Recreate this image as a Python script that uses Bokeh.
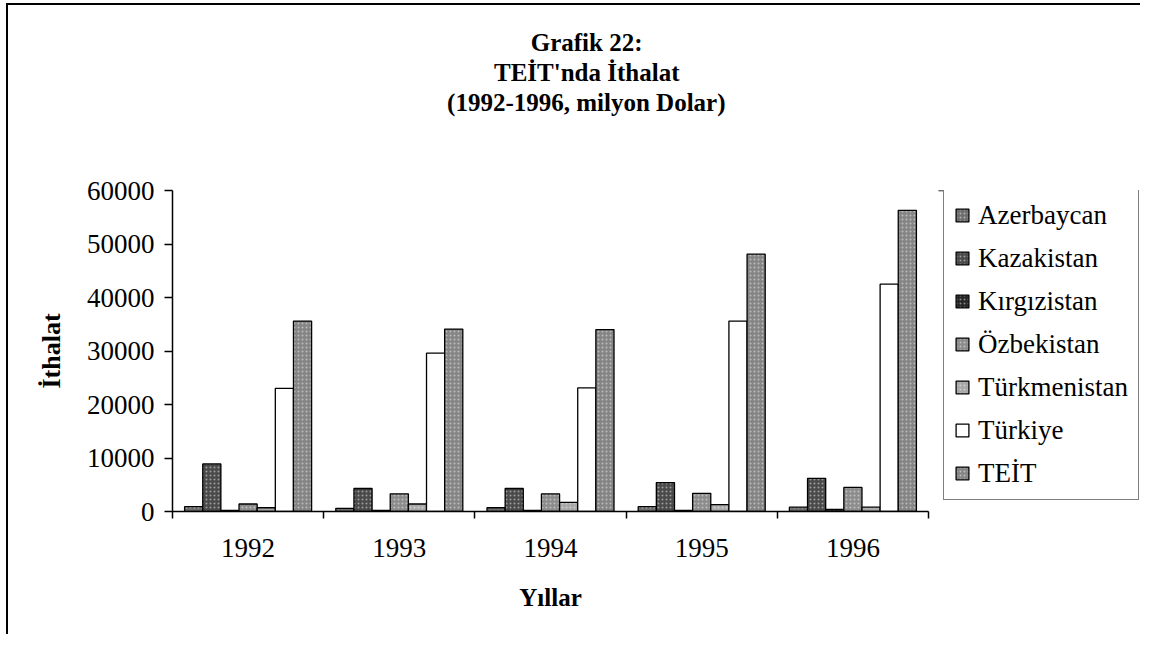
from bokeh.plotting import figure
from bokeh.layouts import row
from bokeh.models import Range1d, FixedTicker, Legend, LegendItem, Title, ColumnDataSource
from bokeh.embed import file_html
from bokeh.resources import INLINE

years = ["1992", "1993", "1994", "1995", "1996"]
countries = ["Azerbaycan", "Kazakistan", "Kırgızistan", "Özbekistan",
             "Türkmenistan", "Türkiye", "TEİT"]
azerbaycan = [900, 600, 700, 900, 800]
kazakistan = [8900, 4300, 4300, 5400, 6200]
kirgizistan = [200, 200, 200, 200, 400]
ozbekistan = [1400, 3300, 3300, 3400, 4500]
turkmenistan = [700, 1400, 1700, 1300, 800]
turkiye = [23000, 29600, 23100, 35600, 42500]
teit = [35600, 34100, 34000, 48100, 56300]
series = [azerbaycan, kazakistan, kirgizistan, ozbekistan, turkmenistan, turkiye, teit]
y_ticks = [0, 10000, 20000, 30000, 40000, 50000, 60000]
title_lines = ["Grafik 22:", "TEİT'nda İthalat", "(1992-1996, milyon Dolar)"]

colors = ["#6e6e6e", "#4a4a4a", "#262626", "#8c8c8c", "#a8a8a8", "#ffffff", "#858585"]

SERIF = "Liberation Serif"

p = figure(width=929, height=631, output_backend="svg", toolbar_location=None,
           x_range=Range1d(0, len(years)), y_range=Range1d(0, 60000),
           min_border_left=164, min_border_right=9, min_border_top=185,
           min_border_bottom=125)
p.styles = {"border-left": "2px solid black", "border-top": "2px solid black",
            "margin-left": "6px", "margin-top": "3px"}

# separate panel holding the legend (to the right of the chart); its frame
# lines up with the chart frame, and its y range lies below the data so
# that only the legend is visible there
pl = figure(width=205, height=631, output_backend="svg", toolbar_location=None,
            x_range=Range1d(0, len(years)), y_range=Range1d(-120000, -60000),
            x_axis_location=None, y_axis_location=None, min_border=0)
pl.styles = {"border-top": "2px solid black", "margin-top": "3px"}
pl.grid.visible = False
pl.outline_line_color = None
pl.background_fill_color = "white"
pl.border_fill_color = "white"

bar_w = 0.12
items = []
for k, (name, vals) in enumerate(zip(countries, series)):
    xs = [i + 0.5 + (k - 3) * bar_w for i in range(len(years))]
    src = ColumnDataSource(dict(x=xs, top=vals))
    kw = {}
    if colors[k] != "#ffffff":
        kw = dict(hatch_pattern="dot", hatch_color="white", hatch_alpha=0.45,
                  hatch_scale=4, hatch_weight=1)
    style = dict(fill_color=colors[k], line_color="black", line_width=1.3, **kw)
    p.vbar(x="x", top="top", width=bar_w, bottom=0, source=src, **style)
    rl = pl.vbar(x="x", top="top", width=bar_w, bottom=0, source=src, **style)
    items.append(LegendItem(label=name, renderers=[rl]))

p.grid.visible = False
p.outline_line_color = None
p.background_fill_color = "white"
p.border_fill_color = "white"

# x axis
xa = p.xaxis[0]
xa.ticker = FixedTicker(ticks=[i + 0.5 for i in range(len(years))],
                        minor_ticks=list(range(len(years) + 1)))
xa.major_label_overrides = {i + 0.5: y for i, y in enumerate(years)}
xa.major_tick_line_color = None
xa.minor_tick_out = 7
xa.minor_tick_in = 0
xa.minor_tick_line_color = "black"
xa.minor_tick_line_width = 1.5
xa.axis_line_width = 1.5
xa.major_label_standoff = 20
xa.major_label_text_font = SERIF
xa.major_label_text_font_size = "27px"
xa.major_label_text_color = "black"
xa.axis_label = "Yıllar"
xa.axis_label_text_font = SERIF
xa.axis_label_text_font_style = "bold"
xa.axis_label_text_font_size = "25px"
xa.axis_label_text_color = "black"
xa.axis_label_standoff = 24

# y axis
ya = p.yaxis[0]
ya.ticker = FixedTicker(ticks=y_ticks)
ya.major_tick_out = 8
ya.major_tick_in = 0
ya.major_tick_line_width = 1.5
ya.minor_tick_line_color = None
ya.axis_line_width = 1.5
ya.major_label_standoff = 10
ya.major_label_text_font = SERIF
ya.major_label_text_font_size = "27px"
ya.major_label_text_color = "black"
ya.axis_label = "İthalat"
ya.axis_label_text_font = SERIF
ya.axis_label_text_font_style = "bold"
ya.axis_label_text_font_size = "26px"
ya.axis_label_text_color = "black"
ya.axis_label_standoff = 18

# titles: spacer first (closest to the frame), then lines from bottom to top
has_standoff = "standoff" in Title.properties()
p.add_layout(Title(text=" ", text_font_size="1px",
                   **({"standoff": 71} if has_standoff else {})), "above")
offsets = [286, 249, 203]   # right-aligned, so that the lines centre at x ~ 586
for idx in [2, 1, 0]:
    kw = {"standoff": 1} if has_standoff else {}
    p.add_layout(Title(text=title_lines[idx], align="right", offset=offsets[idx],
                       text_font=SERIF, text_font_style="bold",
                       text_font_size="25px", text_color="black", **kw), "above")

legend = Legend(items=items, location=(8, 11))
legend.label_text_font = SERIF
legend.label_text_font_size = "27px"
legend.label_text_color = "black"
legend.glyph_width = 16
legend.glyph_height = 16
legend.label_standoff = 8
legend.label_height = 32
legend.spacing = 11
legend.padding = 10
legend.margin = 0
legend.border_line_color = "black"
legend.border_line_width = 1.5
legend.background_fill_alpha = 1
pl.add_layout(legend, "center")

layout = row(p, pl, spacing=0)
open("out.html", "w").write(file_html(layout, INLINE))
